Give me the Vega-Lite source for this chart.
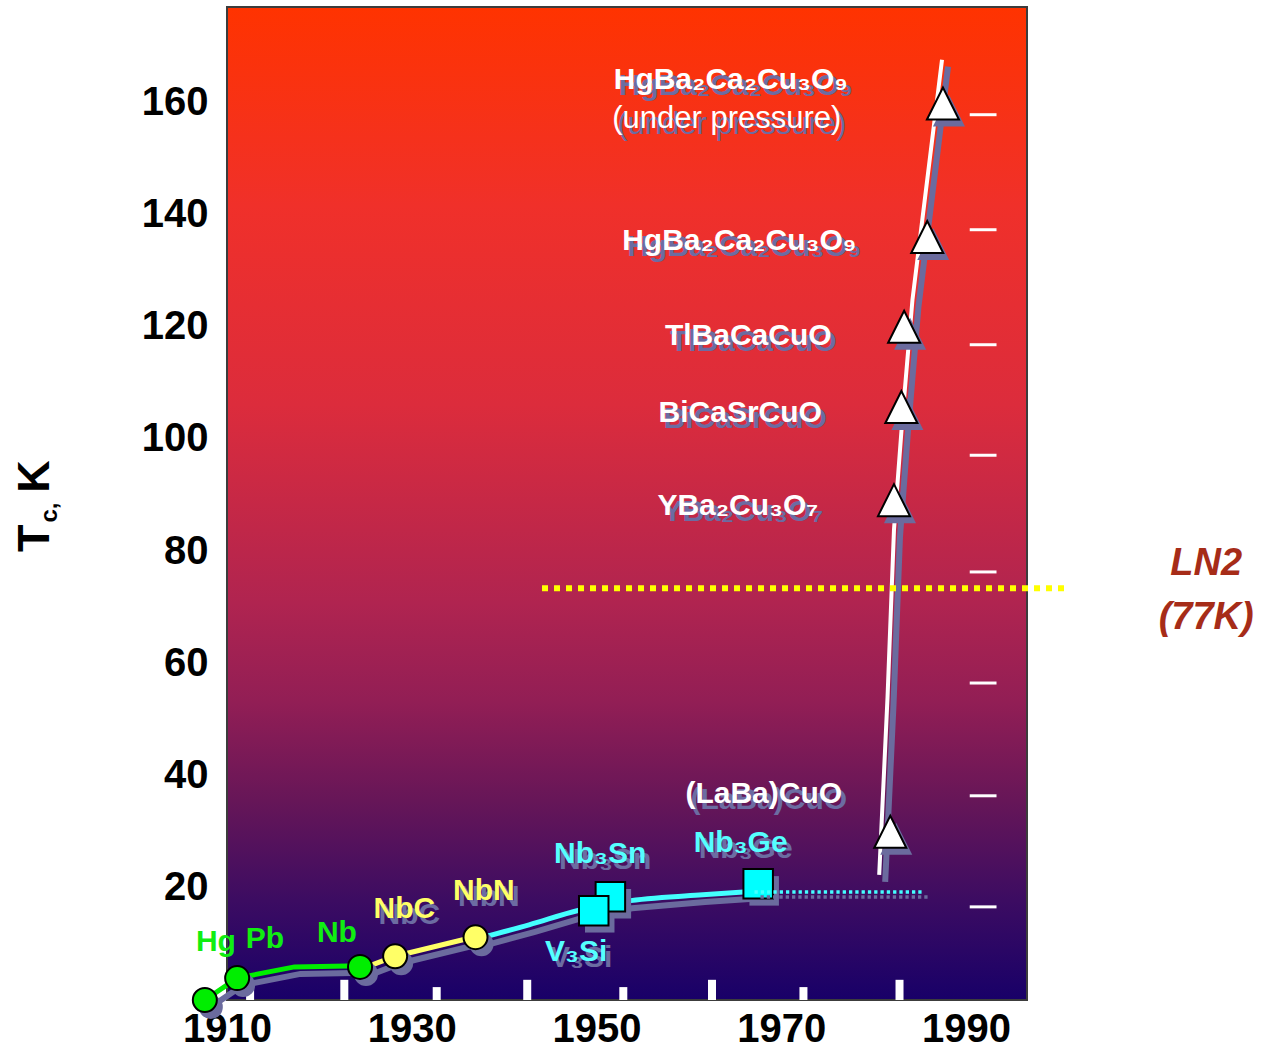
{
  "$schema": "https://vega.github.io/schema/vega-lite/v6.json",
  "width": 800,
  "height": 993,
  "autosize": "none",
  "padding": {"left": 227, "top": 7, "right": 238, "bottom": 50},
  "background": "white",
  "view": {
    "stroke": "#3c3c3c",
    "strokeWidth": 2,
    "fill": {
      "gradient": "linear", "x1": 0, "y1": 0, "x2": 0, "y2": 1,
      "stops": [
        {"offset": 0, "color": "#ff3300"},
        {"offset": 0.2, "color": "#f0302a"},
        {"offset": 0.4, "color": "#dc2c3c"},
        {"offset": 0.6, "color": "#b02450"},
        {"offset": 0.7, "color": "#921e55"},
        {"offset": 0.8, "color": "#661658"},
        {"offset": 0.9, "color": "#3c0c62"},
        {"offset": 1, "color": "#180068"}
      ]
    }
  },
  "config": {"font": "Liberation Sans", "text": {"font": "Liberation Sans"}},
  "datasets": {
    "points": [
      {"name": "Hg", "year": 1907.6, "tc": 0, "family": "element"},
      {"name": "Pb", "year": 1911.1, "tc": 3.9, "family": "element"},
      {"name": "Nb", "year": 1924.4, "tc": 5.9, "family": "element"},
      {"name": "NbC", "year": 1928.2, "tc": 7.8, "family": "carbide"},
      {"name": "NbN", "year": 1936.9, "tc": 11.2, "family": "carbide"},
      {"name": "Nb3Sn", "year": 1951.5, "tc": 18.4, "family": "A15"},
      {"name": "V3Si", "year": 1949.7, "tc": 15.9, "family": "A15"},
      {"name": "Nb3Ge", "year": 1967.5, "tc": 20.7, "family": "A15"},
      {"name": "(LaBa)CuO", "year": 1981.8, "tc": 30.0, "family": "cuprate"},
      {"name": "YBa2Cu3O7", "year": 1982.2, "tc": 89.1, "family": "cuprate"},
      {"name": "BiCaSrCuO", "year": 1983.0, "tc": 105.7, "family": "cuprate"},
      {"name": "TlBaCaCuO", "year": 1983.3, "tc": 120.0, "family": "cuprate"},
      {"name": "HgBa2Ca2Cu3O9", "year": 1985.8, "tc": 136.0, "family": "cuprate"},
      {"name": "HgBa2Ca2Cu3O9 (under pressure)", "year": 1987.5, "tc": 159.8, "family": "cuprate"}
    ],
    "curves": [
      {"series": "green", "year": 1907.6, "tc": 0},
      {"series": "green", "year": 1911.1, "tc": 3.9},
      {"series": "green", "year": 1917.3, "tc": 5.9},
      {"series": "green", "year": 1924.4, "tc": 6.1},
      {"series": "yellow", "year": 1925.0, "tc": 5.8},
      {"series": "yellow", "year": 1928.2, "tc": 7.8},
      {"series": "yellow", "year": 1936.2, "tc": 11.0},
      {"series": "cyan", "year": 1937.3, "tc": 11.0},
      {"series": "cyan", "year": 1942.7, "tc": 13.4},
      {"series": "cyan", "year": 1948.1, "tc": 16.0},
      {"series": "cyan", "year": 1953.2, "tc": 17.6},
      {"series": "cyan", "year": 1961.1, "tc": 18.7},
      {"series": "cyan", "year": 1967.1, "tc": 19.4},
      {"series": "white", "year": 1980.6, "tc": 22.3},
      {"series": "white", "year": 1981.5, "tc": 53.9},
      {"series": "white", "year": 1982.2, "tc": 83.8},
      {"series": "white", "year": 1983.1, "tc": 103.4},
      {"series": "white", "year": 1984.2, "tc": 124.8},
      {"series": "white", "year": 1987.4, "tc": 167.6}
    ],
    "dotted": [
      {"year": 1967.1, "tc": 19.25},
      {"year": 1985.3, "tc": 19.25}
    ],
    "labels": [
      {"label": "Hg", "year": 1908.8, "tc": 8.8, "family": "element"},
      {"label": "Pb", "year": 1914.1, "tc": 9.2, "family": "element"},
      {"label": "Nb", "year": 1921.9, "tc": 10.4, "family": "element"},
      {"label": "NbC", "year": 1929.2, "tc": 14.7, "family": "carbide"},
      {"label": "NbN", "year": 1937.8, "tc": 17.8, "family": "carbide"},
      {"label": "Nb₃Sn", "year": 1950.4, "tc": 24.5, "family": "A15"},
      {"label": "V₃Si", "year": 1947.8, "tc": 7.0, "family": "A15"},
      {"label": "Nb₃Ge", "year": 1965.6, "tc": 26.4, "family": "A15"},
      {"label": "(LaBa)CuO", "year": 1968.1, "tc": 35.1, "family": "cuprate"},
      {"label": "YBa₂Cu₃O₇", "year": 1965.3, "tc": 86.45, "family": "cuprate"},
      {"label": "BiCaSrCuO", "year": 1965.56, "tc": 103.1, "family": "cuprate"},
      {"label": "TlBaCaCuO", "year": 1966.43, "tc": 116.75, "family": "cuprate"},
      {"label": "HgBa₂Ca₂Cu₃O₉", "year": 1965.45, "tc": 133.7, "family": "cuprate"},
      {"label": "HgBa₂Ca₂Cu₃O₉", "year": 1964.53, "tc": 162.3, "family": "cuprate"}
    ],
    "notes": [
      {"label": "(under pressure)", "year": 1964.1, "tc": 155.4}
    ],
    "ticksLong": [
      {"year": 1922.7}, {"year": 1942.5}, {"year": 1962.5}, {"year": 1982.8}
    ],
    "ticksShort": [
      {"year": 1912.5}, {"year": 1932.7}, {"year": 1952.9}, {"year": 1972.4}
    ],
    "rightTicks": [
      {"tc": 16.6}, {"tc": 36.4}, {"tc": 56.5}, {"tc": 76.3},
      {"tc": 97.1}, {"tc": 116.8}, {"tc": 137.3}, {"tc": 157.8}
    ],
    "ln2": [
      {"year": 1944.1, "year2": 2000.9, "tc": 73.4}
    ],
    "ln2Labels": [
      {"label": "LN2", "year": 2016.0, "tc": 75.8},
      {"label": "(77K)", "year": 2016.0, "tc": 66.1}
    ],
    "titleBig": [
      {"label": "T", "year": 1890.72, "tc": 82.3},
      {"label": "K", "year": 1890.72, "tc": 93.3}
    ],
    "titleSmall": [
      {"label": "c,", "year": 1891.6, "tc": 86.9}
    ]
  },
  "layer": [
    {
      "data": {"name": "curves"},
      "mark": {"type": "line", "color": "#6b6b9e", "strokeWidth": 6, "xOffset": 6, "yOffset": 7},
      "encoding": {
        "x": {
          "field": "year", "type": "quantitative",
          "scale": {"domain": [1910, 1996.6], "nice": false, "zero": false},
          "axis": {
            "values": [1910, 1930, 1950, 1970, 1990], "format": "d", "title": null,
            "grid": false, "ticks": false, "domain": false,
            "labelFontSize": 40, "labelFontWeight": "bold", "labelColor": "#000000",
            "labelFont": "Liberation Sans", "labelPadding": 9, "labelFlush": false, "labelOverlap": false
          }
        },
        "y": {
          "field": "tc", "type": "quantitative",
          "scale": {"domain": [0, 177], "nice": false, "zero": false},
          "axis": {
            "values": [20, 40, 60, 80, 100, 120, 140, 160], "title": null,
            "grid": false, "ticks": false, "domain": false,
            "labelFontSize": 40, "labelFontWeight": "bold", "labelColor": "#000000",
            "labelFont": "Liberation Sans", "labelPadding": 19, "labelOverlap": false
          }
        },
        "detail": {"field": "series", "type": "nominal"}
      }
    },
    {
      "data": {"name": "ticksLong"},
      "mark": {"type": "rule", "color": "#ffffff", "strokeWidth": 8},
      "encoding": {
        "x": {"field": "year", "type": "quantitative", "scale": {"domain": [1910, 1996.6], "nice": false, "zero": false}},
        "y": {"datum": 0, "type": "quantitative", "scale": {"domain": [0, 177], "nice": false, "zero": false}},
        "y2": {"datum": 3.6}
      }
    },
    {
      "data": {"name": "ticksShort"},
      "mark": {"type": "rule", "color": "#ffffff", "strokeWidth": 8},
      "encoding": {
        "x": {"field": "year", "type": "quantitative", "scale": {"domain": [1910, 1996.6], "nice": false, "zero": false}},
        "y": {"datum": 0, "type": "quantitative", "scale": {"domain": [0, 177], "nice": false, "zero": false}},
        "y2": {"datum": 2.3}
      }
    },
    {
      "data": {"name": "rightTicks"},
      "mark": {"type": "rule", "color": "#ffffff", "strokeWidth": 3},
      "encoding": {
        "x": {"datum": 1990.4, "type": "quantitative", "scale": {"domain": [1910, 1996.6], "nice": false, "zero": false}},
        "x2": {"datum": 1993.3},
        "y": {"field": "tc", "type": "quantitative", "scale": {"domain": [0, 177], "nice": false, "zero": false}}
      }
    },
    {
      "data": {"name": "curves"},
      "transform": [{"filter": "datum.series === 'green'"}],
      "mark": {"type": "line", "color": "#00ee00", "strokeWidth": 5},
      "encoding": {
        "x": {"field": "year", "type": "quantitative", "scale": {"domain": [1910, 1996.6], "nice": false, "zero": false}},
        "y": {"field": "tc", "type": "quantitative", "scale": {"domain": [0, 177], "nice": false, "zero": false}}
      }
    },
    {
      "data": {"name": "curves"},
      "transform": [{"filter": "datum.series === 'yellow'"}],
      "mark": {"type": "line", "color": "#ffff66", "strokeWidth": 5},
      "encoding": {
        "x": {"field": "year", "type": "quantitative", "scale": {"domain": [1910, 1996.6], "nice": false, "zero": false}},
        "y": {"field": "tc", "type": "quantitative", "scale": {"domain": [0, 177], "nice": false, "zero": false}}
      }
    },
    {
      "data": {"name": "curves"},
      "transform": [{"filter": "datum.series === 'cyan'"}],
      "mark": {"type": "line", "color": "#44ffff", "strokeWidth": 5, "interpolate": "monotone"},
      "encoding": {
        "x": {"field": "year", "type": "quantitative", "scale": {"domain": [1910, 1996.6], "nice": false, "zero": false}},
        "y": {"field": "tc", "type": "quantitative", "scale": {"domain": [0, 177], "nice": false, "zero": false}}
      }
    },
    {
      "data": {"name": "curves"},
      "transform": [{"filter": "datum.series === 'white'"}],
      "mark": {"type": "line", "color": "#ffffff", "strokeWidth": 4},
      "encoding": {
        "x": {"field": "year", "type": "quantitative", "scale": {"domain": [1910, 1996.6], "nice": false, "zero": false}},
        "y": {"field": "tc", "type": "quantitative", "scale": {"domain": [0, 177], "nice": false, "zero": false}}
      }
    },
    {
      "data": {"name": "ln2"},
      "mark": {"type": "rule", "color": "#ffff00", "strokeWidth": 6, "strokeDash": [6, 6]},
      "encoding": {
        "x": {"field": "year", "type": "quantitative", "scale": {"domain": [1910, 1996.6], "nice": false, "zero": false}},
        "x2": {"field": "year2"},
        "y": {"field": "tc", "type": "quantitative", "scale": {"domain": [0, 177], "nice": false, "zero": false}}
      }
    },
    {
      "data": {"name": "points"},
      "transform": [{"filter": "datum.family === 'element' || datum.family === 'carbide'"}],
      "mark": {"type": "point", "shape": "circle", "filled": true, "size": 576, "fill": "#6b6b9e", "opacity": 1, "xOffset": 6, "yOffset": 7},
      "encoding": {
        "x": {"field": "year", "type": "quantitative", "scale": {"domain": [1910, 1996.6], "nice": false, "zero": false}},
        "y": {"field": "tc", "type": "quantitative", "scale": {"domain": [0, 177], "nice": false, "zero": false}}
      }
    },
    {
      "data": {"name": "points"},
      "transform": [{"filter": "datum.family === 'A15'"}],
      "mark": {"type": "point", "shape": "square", "filled": true, "size": 870, "fill": "#6b6b9e", "opacity": 1, "xOffset": 6, "yOffset": 7},
      "encoding": {
        "x": {"field": "year", "type": "quantitative", "scale": {"domain": [1910, 1996.6], "nice": false, "zero": false}},
        "y": {"field": "tc", "type": "quantitative", "scale": {"domain": [0, 177], "nice": false, "zero": false}}
      }
    },
    {
      "data": {"name": "points"},
      "transform": [{"filter": "datum.family === 'cuprate'"}],
      "mark": {"type": "point", "shape": "M-1,1L0,-1L1,1Z", "filled": true, "size": 1024, "fill": "#6b6b9e", "opacity": 1, "xOffset": 6, "yOffset": 7},
      "encoding": {
        "x": {"field": "year", "type": "quantitative", "scale": {"domain": [1910, 1996.6], "nice": false, "zero": false}},
        "y": {"field": "tc", "type": "quantitative", "scale": {"domain": [0, 177], "nice": false, "zero": false}}
      }
    },
    {
      "data": {"name": "points"},
      "transform": [{"filter": "datum.family === 'element' || datum.family === 'carbide'"}],
      "mark": {"type": "point", "shape": "circle", "filled": true, "size": 576, "stroke": "#000000", "strokeWidth": 2, "opacity": 1},
      "encoding": {
        "x": {"field": "year", "type": "quantitative", "scale": {"domain": [1910, 1996.6], "nice": false, "zero": false}},
        "y": {"field": "tc", "type": "quantitative", "scale": {"domain": [0, 177], "nice": false, "zero": false}},
        "fill": {"field": "family", "type": "nominal", "legend": null,
          "scale": {"domain": ["element", "carbide", "A15", "cuprate"], "range": ["#00ee00", "#ffff66", "#00ffff", "#ffffff"]}}
      }
    },
    {
      "data": {"name": "points"},
      "transform": [{"filter": "datum.family === 'A15'"}],
      "mark": {"type": "point", "shape": "square", "filled": true, "size": 870, "stroke": "#000000", "strokeWidth": 2, "opacity": 1},
      "encoding": {
        "x": {"field": "year", "type": "quantitative", "scale": {"domain": [1910, 1996.6], "nice": false, "zero": false}},
        "y": {"field": "tc", "type": "quantitative", "scale": {"domain": [0, 177], "nice": false, "zero": false}},
        "fill": {"field": "family", "type": "nominal", "legend": null,
          "scale": {"domain": ["element", "carbide", "A15", "cuprate"], "range": ["#00ee00", "#ffff66", "#00ffff", "#ffffff"]}}
      }
    },
    {
      "data": {"name": "points"},
      "transform": [{"filter": "datum.family === 'cuprate'"}],
      "mark": {"type": "point", "shape": "M-1,1L0,-1L1,1Z", "filled": true, "size": 1024, "stroke": "#000000", "strokeWidth": 2, "opacity": 1},
      "encoding": {
        "x": {"field": "year", "type": "quantitative", "scale": {"domain": [1910, 1996.6], "nice": false, "zero": false}},
        "y": {"field": "tc", "type": "quantitative", "scale": {"domain": [0, 177], "nice": false, "zero": false}},
        "fill": {"field": "family", "type": "nominal", "legend": null,
          "scale": {"domain": ["element", "carbide", "A15", "cuprate"], "range": ["#00ee00", "#ffff66", "#00ffff", "#ffffff"]}}
      }
    },
    {
      "data": {"name": "dotted"},
      "mark": {"type": "line", "color": "#6b6b9e", "strokeWidth": 3.5, "strokeDash": [3.3, 3], "xOffset": 6, "yOffset": 5},
      "encoding": {
        "x": {"field": "year", "type": "quantitative", "scale": {"domain": [1910, 1996.6], "nice": false, "zero": false}},
        "y": {"field": "tc", "type": "quantitative", "scale": {"domain": [0, 177], "nice": false, "zero": false}}
      }
    },
    {
      "data": {"name": "dotted"},
      "mark": {"type": "line", "color": "#44ffff", "strokeWidth": 3.5, "strokeDash": [3.3, 3]},
      "encoding": {
        "x": {"field": "year", "type": "quantitative", "scale": {"domain": [1910, 1996.6], "nice": false, "zero": false}},
        "y": {"field": "tc", "type": "quantitative", "scale": {"domain": [0, 177], "nice": false, "zero": false}}
      }
    },
    {
      "data": {"name": "labels"},
      "transform": [{"filter": "datum.family !== 'element'"}],
      "mark": {"type": "text", "fontSize": 30, "fontWeight": "bold", "align": "center", "baseline": "alphabetic", "color": "#6c6ca2", "dx": 5, "dy": 6},
      "encoding": {
        "x": {"field": "year", "type": "quantitative", "scale": {"domain": [1910, 1996.6], "nice": false, "zero": false}},
        "y": {"field": "tc", "type": "quantitative", "scale": {"domain": [0, 177], "nice": false, "zero": false}},
        "text": {"field": "label"}
      }
    },
    {
      "data": {"name": "notes"},
      "mark": {"type": "text", "fontSize": 31, "align": "center", "baseline": "alphabetic", "color": "#6c6ca2", "dx": 5, "dy": 6},
      "encoding": {
        "x": {"field": "year", "type": "quantitative", "scale": {"domain": [1910, 1996.6], "nice": false, "zero": false}},
        "y": {"field": "tc", "type": "quantitative", "scale": {"domain": [0, 177], "nice": false, "zero": false}},
        "text": {"field": "label"}
      }
    },
    {
      "data": {"name": "labels"},
      "transform": [{"filter": "datum.family !== 'element'"}],
      "mark": {"type": "text", "fontSize": 30, "fontWeight": "bold", "align": "center", "baseline": "alphabetic"},
      "encoding": {
        "x": {"field": "year", "type": "quantitative", "scale": {"domain": [1910, 1996.6], "nice": false, "zero": false}},
        "y": {"field": "tc", "type": "quantitative", "scale": {"domain": [0, 177], "nice": false, "zero": false}},
        "text": {"field": "label"},
        "color": {"field": "family", "type": "nominal", "legend": null,
          "scale": {"domain": ["element", "carbide", "A15", "cuprate"], "range": ["#11ee11", "#ffff66", "#55ffff", "#ffffff"]}}
      }
    },
    {
      "data": {"name": "labels"},
      "transform": [{"filter": "datum.family === 'element'"}],
      "mark": {"type": "text", "fontSize": 30, "fontWeight": "bold", "align": "center", "baseline": "alphabetic"},
      "encoding": {
        "x": {"field": "year", "type": "quantitative", "scale": {"domain": [1910, 1996.6], "nice": false, "zero": false}},
        "y": {"field": "tc", "type": "quantitative", "scale": {"domain": [0, 177], "nice": false, "zero": false}},
        "text": {"field": "label"},
        "color": {"field": "family", "type": "nominal", "legend": null,
          "scale": {"domain": ["element", "carbide", "A15", "cuprate"], "range": ["#11ee11", "#ffff66", "#55ffff", "#ffffff"]}}
      }
    },
    {
      "data": {"name": "notes"},
      "mark": {"type": "text", "fontSize": 31, "align": "center", "baseline": "alphabetic", "color": "#ffffff"},
      "encoding": {
        "x": {"field": "year", "type": "quantitative", "scale": {"domain": [1910, 1996.6], "nice": false, "zero": false}},
        "y": {"field": "tc", "type": "quantitative", "scale": {"domain": [0, 177], "nice": false, "zero": false}},
        "text": {"field": "label"}
      }
    },
    {
      "data": {"name": "ln2Labels"},
      "mark": {"type": "text", "fontSize": 38, "fontWeight": "bold", "fontStyle": "italic", "align": "center", "baseline": "alphabetic", "color": "#a62c18"},
      "encoding": {
        "x": {"field": "year", "type": "quantitative", "scale": {"domain": [1910, 1996.6], "nice": false, "zero": false}},
        "y": {"field": "tc", "type": "quantitative", "scale": {"domain": [0, 177], "nice": false, "zero": false}},
        "text": {"field": "label"}
      }
    },
    {
      "data": {"name": "titleBig"},
      "mark": {"type": "text", "fontSize": 45, "fontWeight": "bold", "align": "center", "baseline": "alphabetic", "angle": 270, "color": "#000000"},
      "encoding": {
        "x": {"field": "year", "type": "quantitative", "scale": {"domain": [1910, 1996.6], "nice": false, "zero": false}},
        "y": {"field": "tc", "type": "quantitative", "scale": {"domain": [0, 177], "nice": false, "zero": false}},
        "text": {"field": "label"}
      }
    },
    {
      "data": {"name": "titleSmall"},
      "mark": {"type": "text", "fontSize": 24, "fontWeight": "bold", "align": "center", "baseline": "alphabetic", "angle": 270, "color": "#000000"},
      "encoding": {
        "x": {"field": "year", "type": "quantitative", "scale": {"domain": [1910, 1996.6], "nice": false, "zero": false}},
        "y": {"field": "tc", "type": "quantitative", "scale": {"domain": [0, 177], "nice": false, "zero": false}},
        "text": {"field": "label"}
      }
    }
  ]
}
